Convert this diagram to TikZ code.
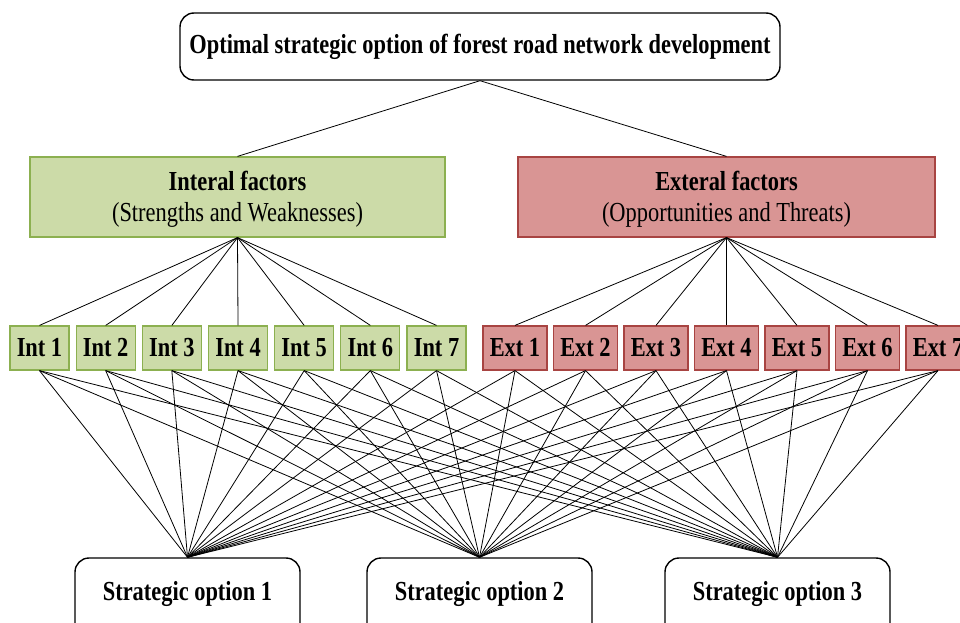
\documentclass[tikz,border=0pt]{standalone}
\usepackage{fontspec}
\setmainfont{Liberation Serif}[FakeStretch=0.815]
\usepackage{xcolor}
\usetikzlibrary{positioning}
\definecolor{intfill}{RGB}{204,219,168}
\definecolor{intdraw}{RGB}{140,176,80}
\definecolor{extfill}{RGB}{217,149,148}
\definecolor{extdraw}{RGB}{168,68,66}

\begin{document}
\begin{tikzpicture}[
    x=1pt, y=-1pt,
    goal/.style={rectangle, rounded corners=14pt, draw, line width=1.4pt, fill=white, minimum width=600pt, minimum height=67pt, font=\fontsize{27.5}{30}\selectfont\bfseries},
    intgroup/.style={rectangle, draw=intdraw, line width=1.2pt, fill=intfill, minimum width=415pt, minimum height=80pt, align=center, font=\fontsize{27.5}{31}\selectfont},
    extgroup/.style={intgroup, draw=extdraw, fill=extfill, minimum width=417pt},
    intbox/.style={rectangle, draw=intdraw, line width=1.2pt, fill=intfill, minimum width=59pt, minimum height=44pt, inner sep=0pt, font=\fontsize{27.5}{30}\selectfont\bfseries},
    extbox/.style={intbox, draw=extdraw, fill=extfill, minimum width=64pt},
    option/.style={rectangle, rounded corners=14pt, draw, line width=1.4pt, fill=white, minimum width=225pt, minimum height=90pt, text depth=24pt, font=\fontsize{27.5}{30}\selectfont\bfseries},
    link/.style={line width=0.8pt}
]
    \useasboundingbox (0,0) rectangle (960,623);
    \clip (0,0) rectangle (960,623);

    % Goal
    \node[goal] (goal) at (480,46.5) {Optimal strategic option of forest road network development};

    % Factor groups
    \node[intgroup] (intf) at (237.5,197) {};
    \node[extgroup] (extf) at (726.5,197) {};
    \node[font=\fontsize{27.5}{31}\selectfont, align=center] (intftext) at (237.5,199.5) {\textbf{Interal factors}\\(Strengths and Weaknesses)};
    \node[font=\fontsize{27.5}{31}\selectfont, align=center] (extftext) at (726.5,199.5) {\textbf{Exteral factors}\\(Opportunities and Threats)};
    \draw[link] (goal.south) -- (intf.north);
    \draw[link] (goal.south) -- (extf.north);

    % Strategic options
    \node[option] (opt1) at (187.5,603) {Strategic option 1};
    \node[option] (opt2) at (479.5,603) {Strategic option 2};
    \node[option] (opt3) at (777.5,603) {Strategic option 3};

    % Single factors
    \foreach \i in {1,...,7} {
        \node[intbox] (int\i) at ({39.5+66.17*(\i-1)},348) {Int \i};
        \node[extbox] (ext\i) at ({515+70.5*(\i-1)},348) {Ext \i};
        \draw[link] (intf.south) -- (int\i.north);
        \draw[link] (extf.south) -- (ext\i.north);
        \foreach \j in {1,2,3} {
            \draw[link] (int\i.south) -- (opt\j.north);
            \draw[link] (ext\i.south) -- (opt\j.north);
        }
    }
\end{tikzpicture}
\end{document}
